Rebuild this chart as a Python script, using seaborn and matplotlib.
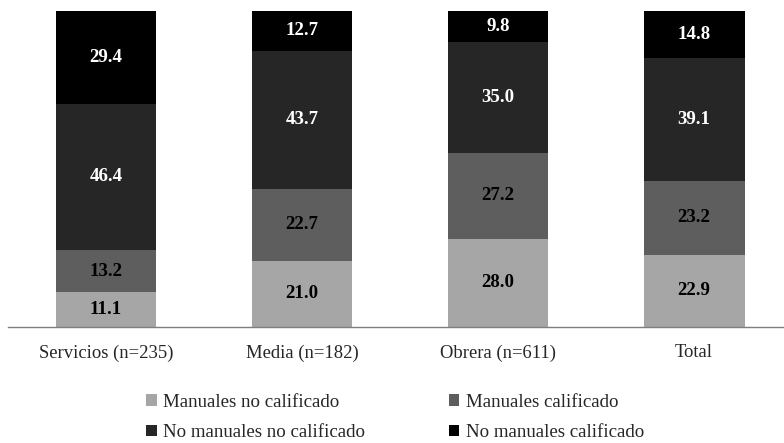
import numpy as np
import pandas as pd
import seaborn as sns
import matplotlib.pyplot as plt
from matplotlib.patches import Patch

# data (percent)
clases = ['Servicios (n=235)', 'Media (n=182)', 'Obrera (n=611)', 'Total']
categorias = ['Manuales no calificado', 'Manuales calificado',
              'No manuales no calificado', 'No manuales calificado']
manuales_no_calif = [11.1, 21.0, 28.0, 22.9]
manuales_calif = [13.2, 22.7, 27.2, 23.2]
no_manuales_no_calif = [46.4, 43.7, 35.0, 39.1]
no_manuales_calif = [29.4, 12.7, 9.8, 14.8]

colores = ['#a6a6a6', '#5e5e5e', '#262626', '#000000']
color_texto = ['black', 'black', 'white', 'white']

sns.set_style('white')
plt.rcParams['font.family'] = ['Liberation Serif', 'DejaVu Serif']

df = pd.DataFrame({
    'clase': clases,
    categorias[0]: manuales_no_calif,
    categorias[1]: manuales_calif,
    categorias[2]: no_manuales_no_calif,
    categorias[3]: no_manuales_calif,
})
acum = df[categorias].cumsum(axis=1)

fig = plt.figure(figsize=(7.84, 4.43), dpi=100)
ax = fig.add_axes([8 / 784, 0.2619, 1 - 8 / 784, 0.7133])

# draw layers from the top of the stack down
for i in range(len(categorias) - 1, -1, -1):
    sns.barplot(x=df['clase'], y=acum[categorias[i]], color=colores[i],
                width=0.515, ax=ax, saturation=1, linewidth=0)

for i, cat in enumerate(categorias):
    bottoms = acum[cat] - df[cat]
    for j in range(len(clases)):
        ax.text(j, bottoms[j] + df[cat][j] / 2, f'{df[cat][j]:.1f}',
                ha='center', va='center', fontsize=13.6, fontweight='bold',
                color=color_texto[i])

ax.set_xlim(-0.5, 3.459)
ax.set_ylim(0, 100)
ax.set_xlabel('')
ax.set_ylabel('')
ax.set_yticks([])
for s in ['top', 'right', 'left']:
    ax.spines[s].set_visible(False)
ax.spines['bottom'].set_color('#7f7f7f')
ax.spines['bottom'].set_linewidth(1)
ax.tick_params(axis='x', length=0, pad=12.5, labelsize=13.4)

handles = [Patch(facecolor=c, edgecolor='none') for c in colores]
orden = [0, 2, 1, 3]
fig.legend([handles[k] for k in orden], [categorias[k] for k in orden],
           ncol=2, loc='center', bbox_to_anchor=(0.504, 0.058), frameon=False,
           fontsize=13.6, handlelength=0.55, handleheight=0.55, handletextpad=0.35,
           columnspacing=4.4, labelspacing=0.72, borderpad=0.2)

fig.savefig('out.png', dpi=100)
